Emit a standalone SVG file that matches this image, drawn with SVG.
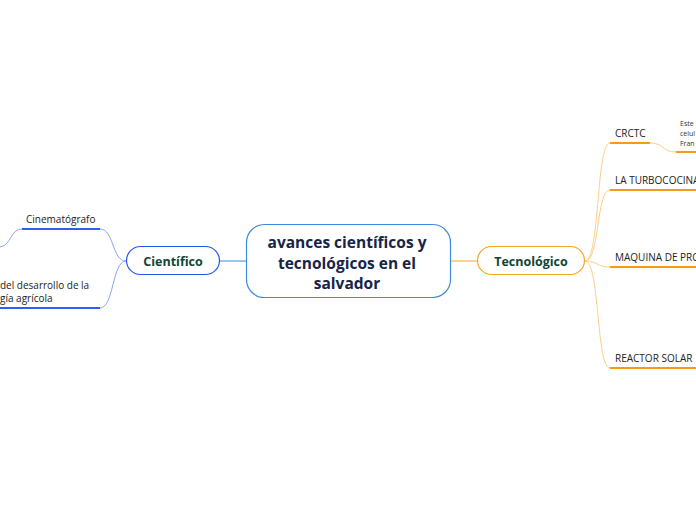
<svg xmlns="http://www.w3.org/2000/svg" width="696" height="520" viewBox="0 0 696 520">
<style>
.lbl{font-family:"Open Sans","Liberation Sans",sans-serif;font-size:10px;fill:#222}
.small{font-family:"Open Sans","Liberation Sans",sans-serif;font-size:7px;fill:#333}
.main{font-family:"Open Sans","Liberation Sans",sans-serif;font-size:15.5px;font-weight:bold;fill:#162447;text-anchor:middle}
.sub{font-family:"Open Sans","Liberation Sans",sans-serif;font-size:12.5px;font-weight:bold;fill:#0f4535;text-anchor:middle}
.bthin{fill:none;stroke:#8aa6f2;stroke-width:1}
.bthick{fill:none;stroke:#2f5ff0;stroke-width:2}
.othin{fill:none;stroke:#fbcf88;stroke-width:1}
.othick{fill:none;stroke:#f59c14;stroke-width:2}
</style>
<rect width="696" height="520" fill="#fff"/>
<g id="connectors">
<line x1="220" y1="261" x2="246" y2="261" stroke="#3d8be0" stroke-width="1"/>
<line x1="451" y1="261" x2="477" y2="261" stroke="#f5a623" stroke-width="1"/>
<path class="bthin" d="M126,261 C112,261 114,229 100,229"/>
<path class="bthin" d="M126,261 C112,261 114,308 100,308"/>
<path class="bthin" d="M22,229 C10,229 12,245 0,247"/>
<line class="bthick" x1="22" y1="229" x2="100" y2="229"/>
<line class="bthick" x1="0" y1="308" x2="100" y2="308"/>
<path class="othin" d="M585,261 C600,261 596,143 610,143"/>
<path class="othin" d="M585,261 C600,261 596,190 610,190"/>
<path class="othin" d="M585,261 C598,261 596,267 610,267"/>
<path class="othin" d="M585,261 C600,261 596,368 610,368"/>
<path class="othin" d="M650,143 C664,143 662,152 676,152"/>
<line class="othick" x1="610" y1="143" x2="650" y2="143"/>
<line class="othick" x1="676" y1="152" x2="696" y2="152"/>
<line class="othick" x1="610" y1="190" x2="696" y2="190"/>
<line class="othick" x1="610" y1="267" x2="696" y2="267"/>
<line class="othick" x1="610" y1="368" x2="696" y2="368"/>
</g>
<g id="central">
<rect x="246.5" y="224.5" width="204" height="73" rx="18" fill="#fff" stroke="#3d8be0" stroke-width="1.2"/>
<text class="main" x="347" y="248">avances científicos y</text>
<text class="main" x="347" y="268.5">tecnológicos en el</text>
<text class="main" x="347" y="289">salvador</text>
</g>
<g id="cientifico">
<rect x="126.5" y="246.5" width="93" height="28" rx="14" fill="#fff" stroke="#2255ee" stroke-width="1.2"/>
<text class="sub" x="173" y="265.5">Científico</text>
</g>
<g id="tecnologico">
<rect x="477.5" y="246.5" width="107" height="28" rx="14" fill="#fff" stroke="#f5a623" stroke-width="1.2"/>
<text class="sub" x="531" y="265.5">Tecnológico</text>
</g>
<g id="cinematografo"><text class="lbl" x="26" y="223">Cinematógrafo</text></g>
<g id="agricola">
<text class="lbl" x="0" y="289">del desarrollo de la</text>
<text class="lbl" x="0" y="302">gía agrícola</text>
</g>
<g id="crctc"><text class="lbl" x="615" y="137">CRCTC</text></g>
<g id="crctc-note">
<text class="small" x="680" y="126">Este</text>
<text class="small" x="680" y="136">celul</text>
<text class="small" x="680" y="146">Fran</text>
</g>
<g id="turbococina"><text class="lbl" x="615" y="184">LA TURBOCOCINA</text></g>
<g id="maquina"><text class="lbl" x="615" y="261">MAQUINA DE PRO</text></g>
<g id="reactor"><text class="lbl" x="615" y="362">REACTOR SOLAR</text></g>
</svg>
